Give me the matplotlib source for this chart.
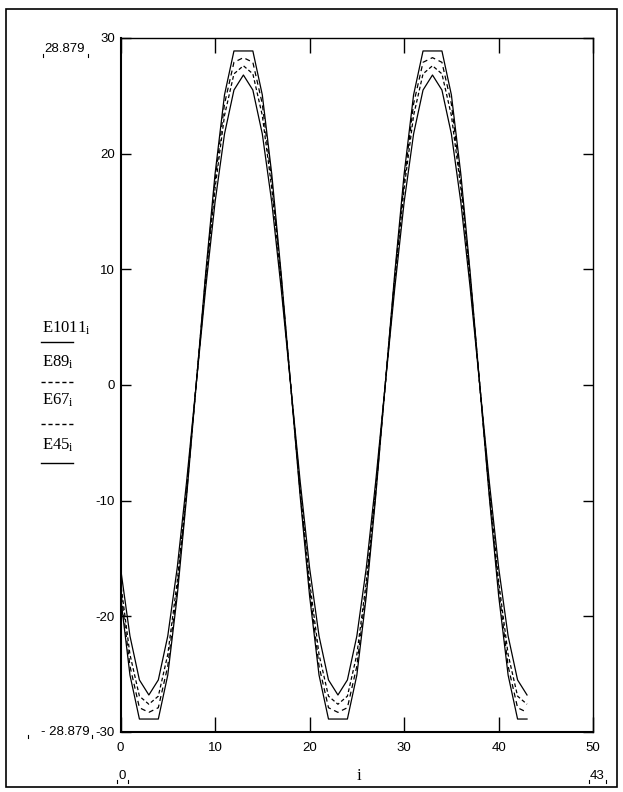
import numpy as np
import matplotlib
matplotlib.use("Agg")
import matplotlib.pyplot as plt
from matplotlib.lines import Line2D
from matplotlib.patches import Rectangle

plt.rcParams['axes.unicode_minus'] = False
plt.rcParams['mathtext.fontset'] = 'custom'
plt.rcParams['mathtext.rm'] = 'Liberation Serif'
plt.rcParams['mathtext.it'] = 'Liberation Serif:italic'

# index i = 0..43
i = np.arange(44)

# values
E45 = [-18.23, -25.08, -28.879, -28.879, -28.879, -25.08, -18.23, -9.58, 0.0, 9.58,
       18.23, 25.08, 28.879, 28.879, 28.879, 25.08, 18.23, 9.58, 0.0, -9.58,
       -18.23, -25.08, -28.879, -28.879, -28.879, -25.08, -18.23, -9.58, 0.0, 9.58,
       18.23, 25.08, 28.879, 28.879, 28.879, 25.08, 18.23, 9.58, 0.0, -9.58,
       -18.23, -25.08, -28.879, -28.879]
E67 = [-17.6, -24.3, -27.9, -28.3, -27.9, -24.3, -17.6, -9.3, 0.0, 9.3,
       17.6, 24.3, 27.9, 28.3, 27.9, 24.3, 17.6, 9.3, 0.0, -9.3,
       -17.6, -24.3, -27.9, -28.3, -27.9, -24.3, -17.6, -9.3, 0.0, 9.3,
       17.6, 24.3, 27.9, 28.3, 27.9, 24.3, 17.6, 9.3, 0.0, -9.3,
       -17.6, -24.3, -27.9, -28.3]
E89 = [-17.0, -23.3, -26.9, -27.6, -26.9, -23.3, -17.0, -8.9, 0.0, 8.9,
       17.0, 23.3, 26.9, 27.6, 26.9, 23.3, 17.0, 8.9, 0.0, -8.9,
       -17.0, -23.3, -26.9, -27.6, -26.9, -23.3, -17.0, -8.9, 0.0, 8.9,
       17.0, 23.3, 26.9, 27.6, 26.9, 23.3, 17.0, 8.9, 0.0, -8.9,
       -17.0, -23.3, -26.9, -27.6]
E1011 = [-15.8, -21.7, -25.5, -26.8, -25.5, -21.7, -15.8, -8.3, 0.0, 8.3,
         15.8, 21.7, 25.5, 26.8, 25.5, 21.7, 15.8, 8.3, 0.0, -8.3,
         -15.8, -21.7, -25.5, -26.8, -25.5, -21.7, -15.8, -8.3, 0.0, 8.3,
         15.8, 21.7, 25.5, 26.8, 25.5, 21.7, 15.8, 8.3, 0.0, -8.3,
         -15.8, -21.7, -25.5, -26.8]

xticks = [0, 10, 20, 30, 40, 50]
yticks = [-30, -20, -10, 0, 10, 20, 30]

W, H = 623, 792
def fx(px):
    return px / W
def fy(py):
    return 1 - py / H

tick_font = 'Liberation Sans'
fs = 9.5

fig = plt.figure(figsize=(W / 100, H / 100), dpi=100)
ax = fig.add_axes([fx(120.5), fy(732), (593.2 - 120.5) / W, (732 - 38) / H])

ax.plot(i, E1011, color='k', ls='-', lw=0.9)
ax.plot(i, E89, color='k', ls=(0, (3, 2)), lw=0.9)
ax.plot(i, E67, color='k', ls=(0, (4, 3)), lw=0.9)
ax.plot(i, E45, color='k', ls='-', lw=0.9)

ax.set_xlim(0, 50)
ax.set_ylim(-30, 30)
ax.set_xticks(xticks)
ax.set_yticks(yticks)
ax.set_xticklabels([str(v) for v in xticks], family=tick_font, fontsize=fs)
ax.set_yticklabels([str(v) for v in yticks], family=tick_font, fontsize=fs)
ax.tick_params(axis='x', direction='in', top=True, length=11, width=1, pad=7)
ax.tick_params(axis='y', direction='in', right=True, length=7, width=1, pad=4)
for s in ['left', 'bottom']:
    ax.spines[s].set_linewidth(1.5)
for s in ['top', 'right']:
    ax.spines[s].set_linewidth(1.0)

# outer frame
fig.add_artist(Rectangle((fx(6), fy(787)), (617 - 6) / W, (787 - 9) / H,
                         fill=False, lw=1.2, ec='k', transform=fig.transFigure))

# y-axis trace labels with line samples
names = [r'$\mathrm{E1011}_{\mathrm{i}}$', r'$\mathrm{E89}_{\mathrm{i}}$',
         r'$\mathrm{E67}_{\mathrm{i}}$', r'$\mathrm{E45}_{\mathrm{i}}$']
name_y = [328, 362, 400, 445]
line_y = [342, 382, 424, 463]
styles = ['-', (0, (3, 2)), (0, (3, 2)), '-']
for n, ty, ly, st in zip(names, name_y, line_y, styles):
    fig.text(fx(42), fy(ty), n, fontsize=12, ha='left', va='center')
    fig.add_artist(Line2D([fx(41), fx(73)], [fy(ly), fy(ly)], color='k',
                          lw=1.0, ls=st, transform=fig.transFigure))

# range limit labels
def bracket(x0, x1, y):
    for xx in (x0, x1):
        fig.add_artist(Line2D([fx(xx), fx(xx)], [fy(y - 3), fy(y)], color='k',
                              lw=0.8, transform=fig.transFigure))

fig.text(fx(65), fy(49), '28.879', family=tick_font, fontsize=fs, ha='center', va='center')
bracket(43, 88, 57)
fig.text(fx(90), fy(732), '- 28.879', family=tick_font, fontsize=fs, ha='right', va='center')
bracket(28, 92, 738)
fig.text(fx(122), fy(776), '0', family=tick_font, fontsize=fs, ha='center', va='center')
bracket(117, 128, 783)
fig.text(fx(597), fy(776), '43', family=tick_font, fontsize=fs, ha='center', va='center')
bracket(589, 606, 783)
fig.text(fx(359), fy(776), 'i', family='Liberation Serif', fontsize=12, ha='center', va='center')

fig.savefig('out.png', dpi=100)
